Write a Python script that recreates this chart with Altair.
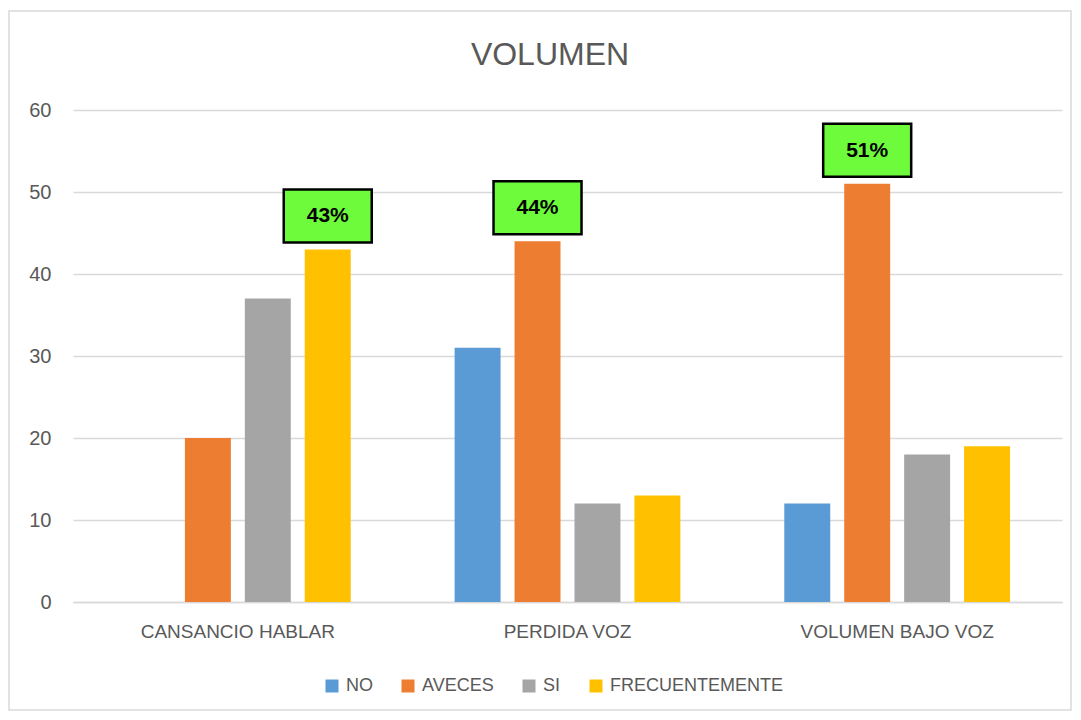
import altair as alt
import pandas as pd

categorias = ["CANSANCIO HABLAR", "PERDIDA VOZ", "VOLUMEN BAJO VOZ"]
series = ["NO", "AVECES", "SI", "FRECUENTEMENTE"]
colores = ["#5B9BD5", "#ED7D31", "#A5A5A5", "#FFC000"]
valores_no = [0, 31, 12]
valores_aveces = [20, 44, 51]
valores_si = [37, 12, 18]
valores_frec = [43, 13, 19]
etiqueta_categoria = ["CANSANCIO HABLAR", "PERDIDA VOZ", "VOLUMEN BAJO VOZ"]
etiqueta_serie = ["FRECUENTEMENTE", "AVECES", "AVECES"]
etiqueta_texto = ["43%", "44%", "51%"]
tick_valores = [0, 10, 20, 30, 40, 50, 60]
titulo = "VOLUMEN"

valores = {"NO": valores_no, "AVECES": valores_aveces, "SI": valores_si,
           "FRECUENTEMENTE": valores_frec}
filas = []
for s in series:
    for c, v in zip(categorias, valores[s]):
        filas.append({"categoria": c, "serie": s, "valor": v})
df = pd.DataFrame(filas)

etq = []
for c, s, t in zip(etiqueta_categoria, etiqueta_serie, etiqueta_texto):
    v = valores[s][categorias.index(c)]
    etq.append({"categoria": c, "serie": s, "valor": v, "texto": t})
df_etq = pd.DataFrame(etq)

FONT = "Liberation Sans"
GRIS = "#595959"

x_enc = alt.X("categoria:N", sort=categorias,
              scale=alt.Scale(domain=categorias, paddingInner=0, paddingOuter=0),
              axis=alt.Axis(title=None, labelAngle=0, ticks=False, domainColor="#D9D9D9",
                            domainWidth=1.5, labelFontSize=19, labelColor=GRIS,
                            labelFont=FONT, labelPadding=20, grid=False, labelLimit=400))
xoff = alt.XOffset("serie:N", sort=series,
                   scale=alt.Scale(domain=series, paddingInner=0.2333, paddingOuter=0.8667))
y_enc = alt.Y("valor:Q", scale=alt.Scale(domain=[0, 60], nice=False),
              axis=alt.Axis(title=None, values=tick_valores, ticks=False, domain=False,
                            gridColor="#D9D9D9", gridWidth=1.3, labelFontSize=20,
                            labelColor=GRIS, labelFont=FONT, labelPadding=22))

barras = alt.Chart(df).mark_bar().encode(
    x=x_enc, xOffset=xoff, y=y_enc,
    color=alt.Color("serie:N", sort=series,
                    scale=alt.Scale(domain=series, range=colores),
                    legend=alt.Legend(title=None, orient="none", direction="horizontal",
                                      legendX=250, legendY=567, padding=0,
                                      symbolType="square", symbolSize=169,
                                      symbolStrokeWidth=0, labelFontSize=18,
                                      labelColor=GRIS, labelFont=FONT, labelOffset=5,
                                      columnPadding=26, labelLimit=400)),
)

caja_path = "M-1,-0.602L1,-0.602L1,0.602L-1,0.602Z"
cajas = alt.Chart(df_etq).mark_point(
    shape=caja_path, size=7744, filled=True, fill="#6DFB3B", stroke="#000000",
    strokeWidth=2.5, opacity=1, yOffset=-33.5
).encode(
    x=alt.X("categoria:N", sort=categorias), xOffset=alt.XOffset("serie:N", sort=series),
    y="valor:Q",
)
textos = alt.Chart(df_etq).mark_text(
    fontSize=21, fontWeight="bold", color="#000000", font=FONT,
    baseline="middle", align="center", yOffset=-33
).encode(
    x=alt.X("categoria:N", sort=categorias), xOffset=alt.XOffset("serie:N", sort=series),
    y="valor:Q", text="texto:N",
)

borde = alt.Chart(alt.Data(values=[{}])).mark_rect(
    fillOpacity=0, stroke="#D9D9D9", strokeWidth=1.5
).encode(
    x=alt.value(-64), x2=alt.value(998), y=alt.value(-99), y2=alt.value(600)
)

titulo_mark = alt.Chart(alt.Data(values=[{"t": titulo}])).mark_text(
    fontSize=32, font=FONT, color=GRIS, align="center", baseline="middle"
).encode(x=alt.value(477), y=alt.value(-55), text="t:N")

chart = alt.layer(borde, barras, cajas, textos, titulo_mark).properties(
    width=989, height=492,
    background="#FFFFFF",
    autosize=alt.AutoSizeParams(type="none"),
    padding={"left": 65, "top": 102, "right": 11, "bottom": 110},
).configure_view(strokeWidth=0, stroke="transparent")

chart.save("out.html", embed_options={"renderer": "svg", "actions": False})
